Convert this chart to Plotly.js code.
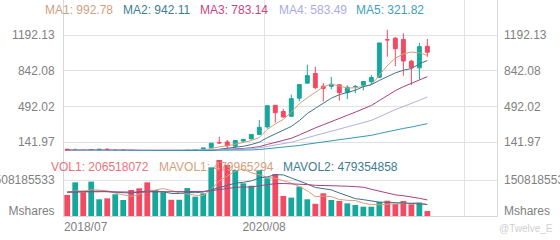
<!DOCTYPE html>
<html><head><meta charset="utf-8">
<script src="https://cdn.plot.ly/plotly-3.0.1.min.js"></script>
<style>html,body{margin:0;padding:0;background:#fff;}#chart{width:560px;height:240px;}</style>
</head><body><div id="chart"></div>
<script>
const dates = ['2018/07','2018/08','2018/09','2018/10','2018/11','2018/12',
  '2019/01','2019/02','2019/03','2019/04','2019/05','2019/06','2019/07','2019/08','2019/09','2019/10','2019/11','2019/12',
  '2020/01','2020/02','2020/03','2020/04','2020/05','2020/06','2020/07','2020/08','2020/09','2020/10','2020/11','2020/12',
  '2021/01','2021/02','2021/03','2021/04','2021/05','2021/06','2021/07','2021/08','2021/09','2021/10','2021/11','2021/12',
  '2022/01','2022/02','2022/03','2022/04'];
const openP  = [72.0,60.0,60.6,61.2,67.6,72.0,61.2,61.4,61.3,56.4,48.0,37.0,46.2,48.5,45.0,48.2,63.3,66.2,
  84.9,134.7,142.3,100.9,151.0,171.6,216.6,289.8,502.1,440.8,394.0,572.4,
  719.5,814.3,690.0,688.4,703.8,627.8,683.9,700.0,733.0,776.2,1145.0,1160.7,1147.7,935.2,869.7,1081.2];
const highP  = [73.0,77.5,62.4,69.0,73.0,77.5,69.9,65.0,61.6,59.2,49.0,46.6,53.3,49.4,49.6,68.2,72.2,87.1,
  130.6,193.8,161.4,160.0,169.0,216.0,358.8,500.1,502.5,465.9,607.8,695.0,
  900.4,880.5,721.1,780.8,706.0,697.6,700.0,739.0,799.0,1115.2,1243.5,1172.8,1208.0,947.8,1114.8,1152.9];
const lowP   = [57.4,59.1,50.4,50.1,61.5,58.9,54.0,59.4,51.2,46.8,35.4,35.6,43.3,42.2,44.5,46.2,62.6,65.4,
  84.3,122.3,70.1,80.9,136.6,170.8,214.0,273.0,329.9,379.1,392.3,541.2,
  717.2,659.4,539.5,659.4,547.0,563.1,620.5,648.8,708.9,776.0,978.6,886.1,792.0,700.0,756.0,978.4];
const closeP = [59.6,60.3,53.0,67.5,70.1,66.6,61.4,64.0,56.0,47.7,37.0,44.7,48.3,45.1,48.2,63.0,66.0,83.7,
  130.1,133.6,104.8,156.4,167.0,216.0,286.2,498.3,429.0,388.0,567.6,705.7,
  793.5,675.5,667.9,709.4,625.2,679.7,687.2,735.7,775.5,1114.0,1144.8,1056.8,936.7,870.4,1077.6,1022.4];
const volume = [880e6,1410e6,990e6,1440e6,700e6,740e6,910e6,670e6,1090e6,1160e6,1410e6,1090e6,1000e6,680e6,680e6,1170e6,810e6,950e6,
  2040e6,2350e6,2140e6,1930e6,1370e6,1270e6,1930e6,1580e6,1760e6,840e6,770e6,1230e6,
  700e6,510e6,950e6,670e6,630e6,530e6,460e6,390e6,390e6,590e6,640e6,500e6,630e6,490e6,560e6,206518072];
const ma1 = [59.4,60.8,59.7,61.8,62.1,63.5,63.7,65.9,63.6,59.1,53.2,49.9,46.7,44.6,44.7,49.9,54.1,61.2,
  78.2,95.3,103.6,121.7,138.4,155.6,186.1,264.8,319.3,363.5,433.8,517.7,
  576.8,626.1,682.0,710.4,694.3,671.5,673.9,687.4,700.7,798.4,891.4,965.4,1005.6,1024.5,1017.3,992.78];
const ma2 = [62.7,62.1,61.3,61.8,61.7,61.5,62.3,62.8,62.7,60.6,58.4,56.8,56.3,54.1,51.9,51.6,52.0,54.0,
  61.4,70.0,76.8,87.9,99.8,116.9,140.7,184.2,220.5,251.0,294.7,351.9,
  420.8,472.7,522.8,572.1,606.0,624.2,650.0,684.7,705.6,746.4,781.5,819.7,846.5,862.6,907.9,942.11];
const ma3 = [61.4,62.0,62.2,62.9,63.4,63.3,63.7,63.4,63.4,61.8,60.6,59.5,58.8,58.0,56.8,56.6,57.2,58.4,
  62.1,65.3,67.6,72.4,78.1,85.5,96.3,117.9,136.3,152.5,178.1,211.0,
  248.8,280.3,311.3,344.5,373.4,404.2,435.3,467.9,500.2,549.2,601.2,646.2,684.7,717.4,757.0,783.14];
const ma4 = [55.6,56.0,56.4,57.3,58.2,58.8,60.1,60.9,61.6,61.2,60.4,60.3,60.2,60.0,59.5,59.4,59.8,60.3,
  62.7,64.5,66.0,68.9,72.5,77.6,84.8,99.1,111.6,122.6,139.6,160.8,
  185.3,205.8,226.3,247.7,266.2,286.7,307.5,329.9,353.9,389.4,426.4,460.1,489.7,517.2,551.5,583.49];
const ma5 = [50.0,50.5,51.0,51.5,52.0,52.5,53.0,53.5,54.0,54.0,54.0,54.0,54.5,54.5,54.5,55.0,55.0,55.5,
  56.0,57.0,57.7,59.1,61.1,64.0,68.2,75.9,82.6,88.5,97.1,107.9,
  120.5,130.9,141.4,152.5,162.2,172.8,183.8,195.4,207.7,225.3,243.4,260.2,275.0,288.6,305.5,321.82];
const mavol1 = [1000e6,1050e6,1050e6,1100e6,1084e6,1056e6,956e6,892e6,822e6,914e6,1048e6,1084e6,1150e6,1068e6,972e6,924e6,868e6,858e6,
  1130e6,1464e6,1658e6,1882e6,1966e6,1812e6,1728e6,1616e6,1582e6,1476e6,1376e6,1236e6,
  1060e6,810e6,832e6,812e6,692e6,658e6,648e6,536e6,480e6,472e6,494e6,502e6,550e6,570e6,564e6,479965294];
const mavol2 = [1000e6,1020e6,1020e6,1030e6,1040e6,1030e6,1000e6,980e6,960e6,999e6,1052e6,1020e6,1021e6,945e6,943e6,986e6,976e6,1004e6,
  1099e6,1218e6,1291e6,1375e6,1412e6,1471e6,1596e6,1637e6,1732e6,1721e6,1594e6,1482e6,
  1338e6,1196e6,1154e6,1094e6,964e6,859e6,729e6,684e6,646e6,582e6,576e6,575e6,543e6,525e6,518e6,479354858];
const mavol3 = [1000e6,1010e6,1010e6,1020e6,1020e6,1020e6,1010e6,1000e6,1000e6,1000e6,1010e6,1010e6,1020e6,1010e6,1000e6,1010e6,1010e6,1030e6,
  1060e6,1109e6,1172e6,1198e6,1217e6,1208e6,1270e6,1312e6,1354e6,1363e6,1347e6,1350e6,
  1315e6,1286e6,1283e6,1283e6,1280e6,1248e6,1231e6,1203e6,1120e6,1032e6,957e6,886e6,849e6,810e6,741e6,673e6];
const priceTicks = [141.97, 492.02, 842.08, 1192.13];
const volTick = 1508185533;
const maNames = ['MA1','MA2','MA3','MA4','MA5'];
const volNames = ['VOL1','MAVOL1','MAVOL2'];

const UP = '#17a79c', DOWN = '#f24a63';
const maColors = ['#d4a07c','#3f7587','#a8407f','#b0b0e0','#3499b3'];
const maLegendColors = ['#d0a080','#3d7d92','#c84585','#a9aae6','#3f9ec0'];
const grid = '#e2e2e2', axisLine = '#d8d8d8', labelColor = '#808080';
const FONT = 'Arial, "Liberation Sans", sans-serif';

const x = dates.map((d, i) => i);
const volColors = closeP.map((c, i) => c >= openP[i] ? UP : DOWN);

const traces = [];
traces.push({type:'candlestick', x:x, open:openP, high:highP, low:lowP, close:closeP,
  xaxis:'x', yaxis:'y', hoverinfo:'skip',
  increasing:{line:{color:UP, width:1}, fillcolor:UP},
  decreasing:{line:{color:DOWN, width:1}, fillcolor:DOWN}, whiskerwidth:0});
[ma1,ma2,ma3,ma4,ma5].forEach((m, k) => traces.push({type:'scatter', mode:'lines', x:x, y:m,
  xaxis:'x', yaxis:'y', line:{color:maColors[k], width:1}, hoverinfo:'skip'}));
traces.push({type:'bar', x:x, y:volume, xaxis:'x', yaxis:'y2', marker:{color:volColors, line:{width:0}}, hoverinfo:'skip'});
[[mavol1,'#d4a07c'],[mavol2,'#3f6f8f'],[mavol3,'#a8407f']].forEach(([m,c]) => traces.push({type:'scatter', mode:'lines', x:x, y:m,
  xaxis:'x', yaxis:'y2', line:{color:c, width:1}, hoverinfo:'skip'}));

// layout geometry (pixels)
const W = 560, H = 240, L = 64, R = 63, T = 0, B = 24;
const plotH = H - T - B; // 216
const splitPx = 151;      // boundary between price and volume panes
const dSplit = (plotH - splitPx) / plotH;
const priceRange = [53.6, 1535.6];
const volRange = [0, 2.7231e9];
const volUnitPos = volRange[1] * 5 / (plotH - splitPx);

const fmt = v => v.toFixed(2);
const ticksY = {tickfont:{size:12, color:labelColor, family:FONT}, ticks:'', zeroline:false};

const annotations = [];
const maVals = [ma1,ma2,ma3,ma4,ma5].map(m => m[m.length-1]);
const maX = [43,121,198,277,354];
maNames.forEach((n,k) => annotations.push({xref:'paper', yref:'paper', x:(maX[k]-L)/(W-L-R), y:(plotH-10)/plotH,
  xanchor:'left', yanchor:'middle', showarrow:false, text:n+': '+fmt(maVals[k]),
  font:{size:12, color:maLegendColors[k], family:FONT}}));
const volVals = [volume[volume.length-1], mavol1[mavol1.length-1], mavol2[mavol2.length-1]];
const volX = [49,157,281];
const volLegColors = ['#ee6f7c','#d4a07c','#3d7d92'];
volNames.forEach((n,k) => annotations.push({xref:'paper', yref:'paper', x:(volX[k]-L)/(W-L-R), y:(plotH-166.5)/plotH,
  xanchor:'left', yanchor:'middle', showarrow:false, text:n+': '+String(Math.round(volVals[k])),
  font:{size:12, color:volLegColors[k], family:FONT}}));
annotations.push({xref:'paper', yref:'paper', x:(497-L)/(W-L-R), y:(plotH-228)/plotH, xanchor:'left', yanchor:'middle',
  showarrow:false, text:'@Twelve_E', font:{size:10, color:'#d0d0d0', family:FONT}});

const layout = {
  width:W, height:H, margin:{l:L, r:R, t:T, b:B, pad:0},
  paper_bgcolor:'#fff', plot_bgcolor:'#fff', showlegend:false,
  font:{family:FONT, size:12, color:labelColor},
  bargap:0.28,
  xaxis:{anchor:'y2', domain:[0,1], range:[-0.4, 53.7], rangeslider:{visible:false},
    tickmode:'array', tickvals:[2.3, 24.6], ticktext:['2018/07','2020/08'],
    showgrid:false, zeroline:false, ticks:'', showline:true, linecolor:axisLine,
    tickfont:{size:12, color:labelColor, family:FONT},
    minor:{tickvals:[24.6, 49.6], showgrid:true, gridcolor:grid, gridwidth:1, ticks:''}},
  yaxis:Object.assign({domain:[dSplit,1], range:priceRange, anchor:'x', side:'left',
    tickmode:'array', tickvals:priceTicks, ticktext:priceTicks.map(fmt),
    showgrid:true, gridcolor:grid, showline:true, linecolor:axisLine, mirror:true, ticklabelstandoff:6}, ticksY),
  yaxis3:Object.assign({overlaying:'y', side:'right', range:priceRange, anchor:'x',
    tickmode:'array', tickvals:priceTicks, ticktext:priceTicks.map(fmt), showgrid:false, showline:false, ticklabelstandoff:6}, ticksY),
  yaxis2:Object.assign({domain:[0,dSplit], range:volRange, anchor:'x', side:'left',
    tickmode:'array', tickvals:[volUnitPos, volTick], ticktext:['Mshares', String(volTick)],
    showgrid:false, showline:true, linecolor:axisLine, mirror:true, ticklabelstandoff:6,
    minor:{tickvals:[volTick], showgrid:true, gridcolor:grid, ticks:''}}, ticksY),
  yaxis4:Object.assign({overlaying:'y2', side:'right', range:volRange, anchor:'x',
    tickmode:'array', tickvals:[volUnitPos, volTick], ticktext:['Mshares', String(volTick)],
    showgrid:false, showline:false, ticklabelstandoff:6}, ticksY),
  annotations:annotations
};
// dummy invisible traces so overlay axes render
traces.push({type:'scatter', x:[x[0]], y:[priceTicks[0]], xaxis:'x', yaxis:'y3', mode:'markers', marker:{opacity:0}, hoverinfo:'skip'});
traces.push({type:'scatter', x:[x[0]], y:[0], xaxis:'x', yaxis:'y4', mode:'markers', marker:{opacity:0}, hoverinfo:'skip'});

Plotly.newPlot('chart', traces, layout, {staticPlot:true, displayModeBar:false});
</script></body></html>
